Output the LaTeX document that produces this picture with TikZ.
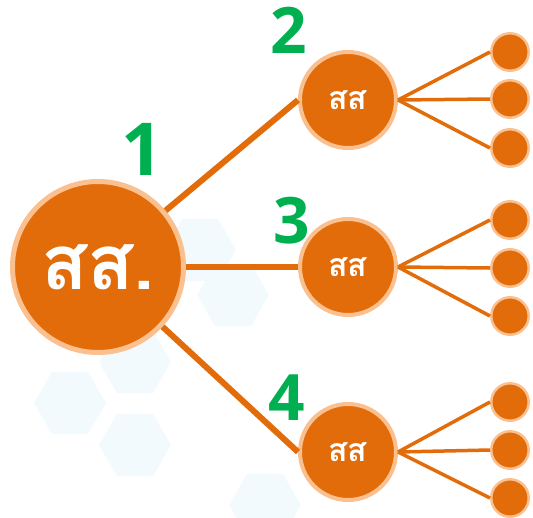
\documentclass[tikz,border=0pt]{standalone}
\usepackage{fontspec}
\usepackage{tikz}
\usetikzlibrary{shapes.geometric, positioning}
\newfontfamily\thaifont[Script=Thai]{Loma}
\newfontfamily\numfont{Open Sans}
\definecolor{treeorange}{HTML}{E36C0A}
\definecolor{treerim}{HTML}{FAC090}
\definecolor{treegreen}{HTML}{00B050}
\definecolor{hexblue}{HTML}{F3FAFD}

\tikzset{
  root/.style={circle, draw=treerim, fill=treeorange, line width=5pt, minimum size=171pt, inner sep=0pt, text=white, font=\thaifont\bfseries\fontsize{76}{80}\selectfont},
  branch/.style={circle, draw=treerim, fill=treeorange, line width=4pt, minimum size=96pt, inner sep=0pt, text=white, font=\thaifont\bfseries\fontsize{32}{34}\selectfont},
  leaf/.style={circle, draw=treerim, fill=treeorange, line width=2.5pt, minimum size=37.5pt, inner sep=0pt},
  number/.style={text=treegreen, font=\numfont\bfseries\fontsize{64}{66}\selectfont, inner sep=0pt},
  trunk/.style={draw=treeorange, line width=6pt},
  twig/.style={draw=treeorange, line width=3.5pt},
  hex/.style={regular polygon, regular polygon sides=6, minimum size=72pt, fill=hexblue, inner sep=0pt}
}

\begin{document}
\begin{tikzpicture}[x=1pt, y=-1pt]
\useasboundingbox (0,0) rectangle (533,517);

% Background hexagons
\foreach \hx/\hy [count=\i] in {70/403, 135/445, 135/362, 233/295, 200/250, 265/505}
  \node[hex] (bg\i) at (\hx,\hy) {};

% Root
\node[root] (root) at (98,267) {สส.};

% Branches
\node[branch] (br2) at (348,100) {สส};
\node[branch] (br3) at (348,267) {สส};
\node[branch] (br4) at (348,452) {สส};

% Leaves
\node[leaf] (lf21) at (510,52) {};
\node[leaf] (lf22) at (510,99) {};
\node[leaf] (lf23) at (510,148) {};
\node[leaf] (lf31) at (510,220) {};
\node[leaf] (lf32) at (510,268) {};
\node[leaf] (lf33) at (510,316) {};
\node[leaf] (lf41) at (510,402) {};
\node[leaf] (lf42) at (510,450) {};
\node[leaf] (lf43) at (510,498) {};

% Trunk lines
\draw[trunk] (root) -- (br2.west);
\draw[trunk] (root) -- (br3.west);
\draw[trunk] (root) -- (br4.west);

% Twigs
\draw[twig] (br2.east) -- (lf21.west);
\draw[twig] (br2.east) -- (lf22.west);
\draw[twig] (br2.east) -- (lf23.west);
\draw[twig] (br3.east) -- (lf31.west);
\draw[twig] (br3.east) -- (lf32.west);
\draw[twig] (br3.east) -- (lf33.west);
\draw[twig] (br4.east) -- (lf41.west);
\draw[twig] (br4.east) -- (lf42.west);
\draw[twig] (br4.east) -- (lf43.west);

% Numbers
\node[number, font=\numfont\bfseries\fontsize{73}{75}\selectfont] (num1) at (142,149) {1};
\node[number] (num2) at (289,30) {2};
\node[number] (num3) at (292,221) {3};
\node[number] (num4) at (287,398) {4};

\end{tikzpicture}
\end{document}
